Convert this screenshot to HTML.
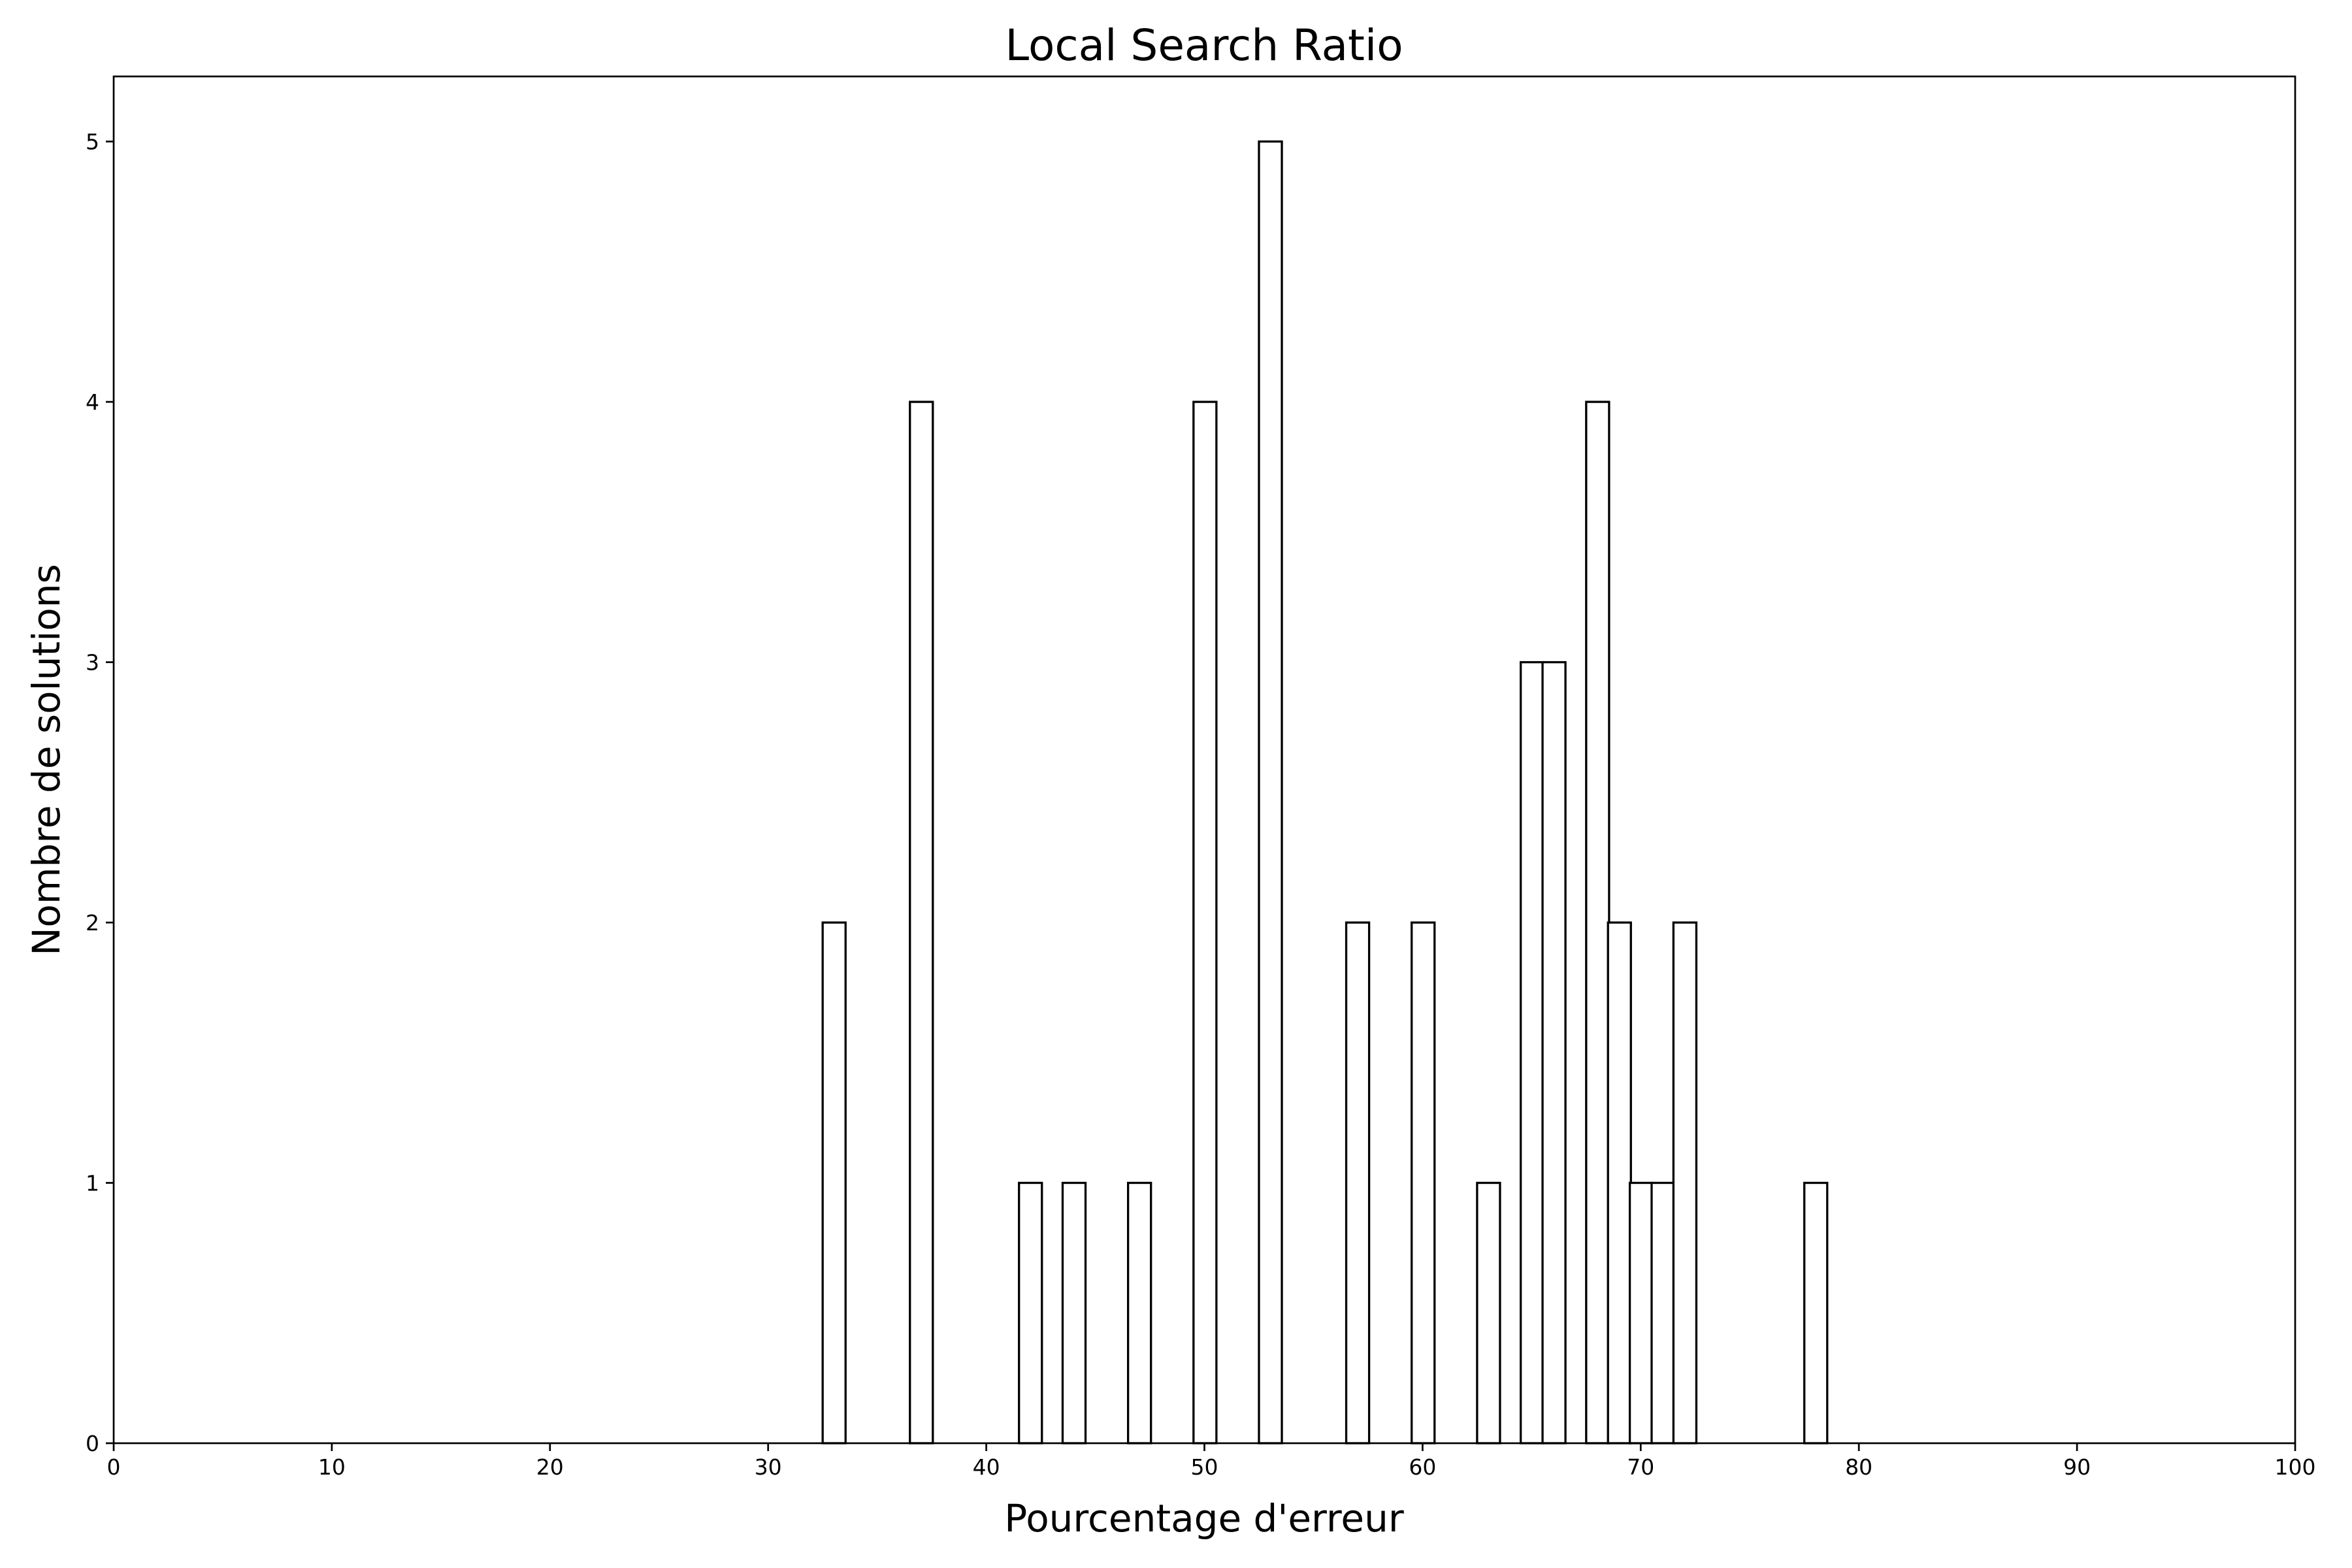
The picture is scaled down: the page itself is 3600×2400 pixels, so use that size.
<!DOCTYPE html>
<html><head><meta charset="utf-8"><style>
html,body{margin:0;padding:0;background:#fff;}
svg{display:block;font-family:"DejaVu Sans","Liberation Sans",sans-serif;}
</style></head><body>
<svg id="chart" width="3600" height="2400" viewBox="0 0 3600 2400">
<rect width="3600" height="2400" fill="#fff"/>
<g id="bars"></g>
<g id="xticks"></g>
<g id="yticks"></g>
<rect x="174" y="117" width="3339" height="2092" fill="none" stroke="#000" stroke-width="2.7"/>
<text x="1843" y="92" font-size="66" text-anchor="middle">Local Search Ratio</text>
<text x="1843" y="2344" font-size="58" text-anchor="middle">Pourcentage d'erreur</text>
<text transform="translate(91,1163) rotate(-90)" font-size="58" text-anchor="middle">Nombre de solutions</text>
</svg>
<script>
const binEdges = [32.5,36.5,41.5,43.5,46.5,49.5,52.5,56.5,59.5,62.5,64.5,65.5,67.5,68.5,69.5,70.5,71.5,77.5];
const counts = [2,4,1,1,1,4,5,2,2,1,3,3,4,2,1,1,2,1];
const xTickLabels = [0,10,20,30,40,50,60,70,80,90,100];
const yTickLabels = [0,1,2,3,4,5];

const L=174,R=3513,T=117,B=2209,XMAX=100,YMAX=5.25,BINW=1.05;
const NS='http://www.w3.org/2000/svg';
function xs(v){return L+(v/XMAX)*(R-L);}
function ys(v){return B-(v/YMAX)*(B-T);}
const bars=document.getElementById('bars');
binEdges.forEach((e,i)=>{
  const r=document.createElementNS(NS,'rect');
  const x0=xs(e),x1=xs(e+BINW);
  r.setAttribute('x',x0);r.setAttribute('width',x1-x0);
  r.setAttribute('y',ys(counts[i]));r.setAttribute('height',ys(0)-ys(counts[i]));
  r.setAttribute('fill','#fff');r.setAttribute('stroke','#000');r.setAttribute('stroke-width','3.3');
  
  
  bars.appendChild(r);
});
const xt=document.getElementById('xticks');
xTickLabels.forEach(v=>{
  const l=document.createElementNS(NS,'line');
  l.setAttribute('x1',xs(v));l.setAttribute('x2',xs(v));l.setAttribute('y1',B);l.setAttribute('y2',B+12);
  l.setAttribute('stroke','#000');l.setAttribute('stroke-width','2.7');
  
  
  xt.appendChild(l);
  const t=document.createElementNS(NS,'text');
  t.setAttribute('x',xs(v));t.setAttribute('y',B+48);t.setAttribute('font-size','33');t.setAttribute('text-anchor','middle');
  t.textContent=v;
  
  
  xt.appendChild(t);
});
const yt=document.getElementById('yticks');
yTickLabels.forEach(v=>{
  const l=document.createElementNS(NS,'line');
  l.setAttribute('x1',L-12);l.setAttribute('x2',L);l.setAttribute('y1',ys(v));l.setAttribute('y2',ys(v));
  l.setAttribute('stroke','#000');l.setAttribute('stroke-width','2.7');
  
  
  yt.appendChild(l);
  const t=document.createElementNS(NS,'text');
  t.setAttribute('x',L-22);t.setAttribute('y',ys(v)+12);t.setAttribute('font-size','33');t.setAttribute('text-anchor','end');
  t.textContent=v;
  
  
  yt.appendChild(t);
});
</script>
</body></html>
